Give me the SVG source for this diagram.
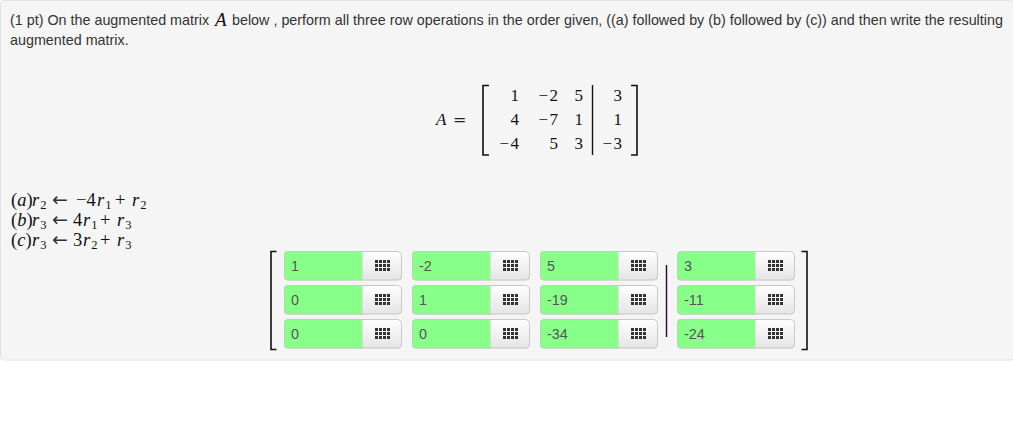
<svg xmlns="http://www.w3.org/2000/svg" width="1013" height="427" viewBox="0 0 1013 427">
<style>
text{font-family:"Liberation Sans",Arial,sans-serif;font-size:14.33px;fill:#333}
.m{font-family:"Liberation Serif","Times New Roman",serif;font-size:17px;fill:#111}
.o1{font-size:18.5px}
.i{font-style:italic}
.s{font-size:12.5px}
.a{font-family:"DejaVu Sans",sans-serif;font-size:19px;fill:#333}
.e{font-family:"DejaVu Sans",sans-serif;font-size:16px;fill:#222}
.n{text-anchor:end}
.f{fill:#88ff88;stroke:none}
.b{fill:url(#btn);stroke:none}
.o{fill:none;stroke:#c8c8c8;stroke-width:1}
.v{font-size:14.33px;fill:#555}
.k{fill:none;stroke:#111;stroke-width:1.6}
.t{fill:none;stroke:#111;stroke-width:1.4}
</style>
<defs>
<linearGradient id="btn" x1="0" y1="0" x2="0" y2="1"><stop offset="0" stop-color="#fff"/><stop offset="1" stop-color="#e4e4e4"/></linearGradient>
<g id="grid" fill="#333">
<rect x="0" y="0" width="3" height="3"/><rect x="4" y="0" width="3" height="3"/><rect x="8" y="0" width="3" height="3"/><rect x="12" y="0" width="3" height="3"/>
<rect x="0" y="4" width="3" height="3"/><rect x="4" y="4" width="3" height="3"/><rect x="8" y="4" width="3" height="3"/><rect x="12" y="4" width="3" height="3"/>
<rect x="0" y="8" width="3" height="3"/><rect x="4" y="8" width="3" height="3"/><rect x="8" y="8" width="3" height="3"/><rect x="12" y="8" width="3" height="3"/>
</g>
<g id="cell">
<rect class="b" x="0" y="0" width="118" height="29.500" rx="4"/>
<path class="f" d="M4 0H78.500V29.500H4a4 4 0 0 1-4-4V4a4 4 0 0 1 4-4z"/>
<rect class="o" x=".5" y=".5" width="117" height="28.500" rx="4"/>
<use href="#grid" x="91" y="9"/>
</g>
</defs>
<rect width="1013" height="427" fill="#fff"/>
<g id="panel"><rect x="0.500" y="0.500" width="1013" height="359.500" rx="3" fill="#f5f5f5" stroke="#e3e3e3"/></g>
<g id="question">
<text x="10" y="25">(1 pt) On the augmented matrix</text>
<text class="m i" x="215" y="26" style="font-size:19px">A</text>
<text x="232" y="25">below , perform all three row operations in the order given, ((a) followed by (b) followed by (c)) and then write the resulting</text>
<text x="10" y="45">augmented matrix.</text>
</g>
<g id="matrix-A">
<text class="m i" x="436" y="125">A</text><text class="e" x="453" y="125">=</text>
<path class="k" d="M489 85.500H483V155H489M631 85.500H637V155H631"/>
<path class="t" d="M592.500 85V155"/>
<text class="m n" x="519" y="101">1</text><text class="m n" x="558" y="101">−<tspan dx="1.500">2</tspan></text><text class="m n" x="583" y="101">5</text><text class="m n" x="622" y="101">3</text>
<text class="m n" x="519" y="125">4</text><text class="m n" x="558" y="125">−<tspan dx="1.500">7</tspan></text><text class="m n" x="583" y="125">1</text><text class="m n" x="622" y="125">1</text>
<text class="m n" x="519" y="149">−<tspan dx="1.500">4</tspan></text><text class="m n" x="558" y="149">5</text><text class="m n" x="583" y="149">3</text><text class="m n" x="622" y="149">−<tspan dx="1.500">3</tspan></text>
</g>
<g id="operations">
<text class="m o1" x="11" y="206">(<tspan class="i">a</tspan>)<tspan class="i" x="32">r</tspan><tspan class="s" dx="1" dy="3">2</tspan><tspan class="a" x="52" dy="-3">←</tspan><tspan class="o1" x="76">−4</tspan><tspan class="i o1" x="97">r</tspan><tspan class="s" dx="1" dy="3">1</tspan><tspan class="o1" x="115" dy="-3">+</tspan><tspan class="i o1" x="132">r</tspan><tspan class="s" dx="1" dy="3">2</tspan></text>
<text class="m o1" x="11" y="226">(<tspan class="i">b</tspan>)<tspan class="i" x="32">r</tspan><tspan class="s" dx="1" dy="3">3</tspan><tspan class="a" x="52" dy="-3">←</tspan><tspan class="o1" x="73">4</tspan><tspan class="i o1" x="83">r</tspan><tspan class="s" dx="1" dy="3">1</tspan><tspan class="o1" x="100" dy="-3">+</tspan><tspan class="i o1" x="117">r</tspan><tspan class="s" dx="1" dy="3">3</tspan></text>
<text class="m o1" x="11" y="246">(<tspan class="i">c</tspan>)<tspan class="i" x="32">r</tspan><tspan class="s" dx="1" dy="3">3</tspan><tspan class="a" x="52" dy="-3">←</tspan><tspan class="o1" x="73">3</tspan><tspan class="i o1" x="83">r</tspan><tspan class="s" dx="1" dy="3">2</tspan><tspan class="o1" x="100" dy="-3">+</tspan><tspan class="i o1" x="117">r</tspan><tspan class="s" dx="1" dy="3">3</tspan></text>
</g>
<g id="answer-brackets">
<path class="k" d="M276.500 251.500H271V349.500H276.500M801.500 251.500H807V349.500H801.500"/>
<path class="t" d="M666.500 265V337" style="stroke:#303"/>
</g>
<g id="answer-cells">
<g id="c11"><use href="#cell" x="284" y="251"/><text class="v" x="291" y="271">1</text></g>
<g id="c12"><use href="#cell" x="412" y="251"/><text class="v" x="419" y="271">-2</text></g>
<g id="c13"><use href="#cell" x="540" y="251"/><text class="v" x="547" y="271">5</text></g>
<g id="c14"><use href="#cell" x="677" y="251"/><text class="v" x="684" y="271">3</text></g>
<g id="c21"><use href="#cell" x="284" y="285"/><text class="v" x="291" y="305">0</text></g>
<g id="c22"><use href="#cell" x="412" y="285"/><text class="v" x="419" y="305">1</text></g>
<g id="c23"><use href="#cell" x="540" y="285"/><text class="v" x="547" y="305">-19</text></g>
<g id="c24"><use href="#cell" x="677" y="285"/><text class="v" x="684" y="305">-11</text></g>
<g id="c31"><use href="#cell" x="284" y="319"/><text class="v" x="291" y="339">0</text></g>
<g id="c32"><use href="#cell" x="412" y="319"/><text class="v" x="419" y="339">0</text></g>
<g id="c33"><use href="#cell" x="540" y="319"/><text class="v" x="547" y="339">-34</text></g>
<g id="c34"><use href="#cell" x="677" y="319"/><text class="v" x="684" y="339">-24</text></g>
</g>
</svg>
